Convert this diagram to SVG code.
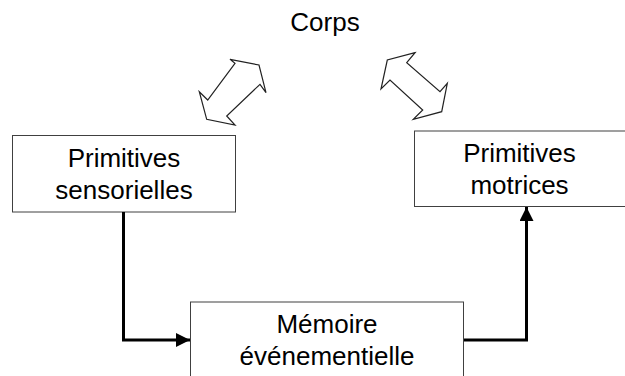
<svg xmlns="http://www.w3.org/2000/svg" width="625" height="376" viewBox="0 0 625 376">
<defs>
<style>
.box{fill:#fff;stroke:#404040;stroke-width:1}
.t{font-family:"Liberation Sans",Arial,sans-serif;font-size:26px;fill:#000;text-anchor:middle}
.conn{fill:none;stroke:#000;stroke-width:3}
.dbl{fill:#fff;stroke:#222;stroke-width:1.2;stroke-linejoin:miter}
</style>
<marker id="ah" viewBox="0 0 14 14" refX="14" refY="7" markerWidth="14" markerHeight="14" markerUnits="userSpaceOnUse" orient="auto">
<path d="M0,0 L14,7 L0,14 Z" fill="#000"/>
</marker>
</defs>
<rect width="625" height="376" fill="#fff"/>
<g id="corps">
<text class="t" x="325" y="31">Corps</text>
</g>
<g id="arrow-left">
<polygon class="dbl" points="230,59.3 259,65 266,92.7 260,84.3 226.7,116 235,125 206.7,119.3 199.3,91.7 207.7,100 235,63.3"/>
</g>
<g id="arrow-right">
<polygon class="dbl" points="415,52.7 387.3,60 381,89 390,80 422.7,110 413.3,119.3 441.7,111.7 447.3,83.3 440,91.7 406.7,62.7"/>
</g>
<g id="sensorielles">
<rect class="box" x="12.5" y="135.5" width="223" height="76.5"/>
<text class="t" x="124" y="167">Primitives</text>
<text class="t" x="124" y="199">sensorielles</text>
</g>
<g id="motrices">
<rect class="box" x="414.5" y="131" width="211" height="75.5"/>
<text class="t" x="519.5" y="162">Primitives</text>
<text class="t" x="519.5" y="194">motrices</text>
</g>
<g id="memoire">
<rect class="box" x="190.5" y="302" width="273" height="80"/>
<text class="t" x="327" y="333">Mémoire</text>
<text class="t" x="327" y="365">événementielle</text>
</g>
<g id="connectors">
<path class="conn" d="M123.5,212 V340 H190" marker-end="url(#ah)"/>
<path class="conn" d="M464,340 H526.5 V207" marker-end="url(#ah)"/>
</g>
</svg>
